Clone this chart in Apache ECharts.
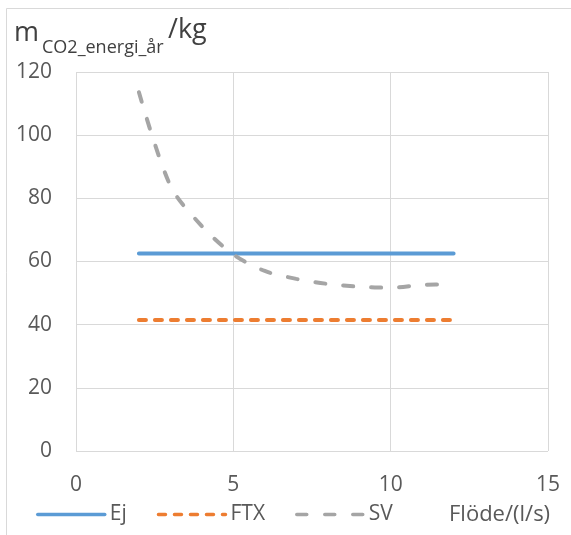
<!DOCTYPE html>
<html><head><meta charset="utf-8">
<script src="https://cdn.jsdelivr.net/npm/echarts@6/dist/echarts.min.js"></script>
<style>html,body{margin:0;padding:0;background:#fff}#c{width:571px;height:535px}</style>
</head><body><div id="c"></div>
<script>
var xValues = [2, 3, 4, 5, 6, 7, 8, 9, 10, 11, 12];
var ejValues = [62.5, 62.5, 62.5, 62.5, 62.5, 62.5, 62.5, 62.5, 62.5, 62.5, 62.5];
var ftxValues = [41.5, 41.5, 41.5, 41.5, 41.5, 41.5, 41.5, 41.5, 41.5, 41.5, 41.5];
var svValues = [113.6, 84, 71.2, 62.2, 57.0, 54.5, 52.9, 52.0, 51.7, 52.6, 52.8];
var seriesNames = ['Ej', 'FTX', 'SV'];
var xTicks = [0, 5, 10, 15];
var yTicks = [0, 20, 40, 60, 80, 100, 120];

function pairs(vals) { return xValues.map(function (x, i) { return [x, vals[i]]; }); }
var FONT = 'Open Sans';
var chart = echarts.init(document.getElementById('c'), null, {renderer: 'canvas'});
chart.setOption({
  animation: false,
  backgroundColor: '#fff',
  textStyle: {fontFamily: FONT},
  grid: {left: 76, right: 23, top: 72, bottom: 84, containLabel: false},
  xAxis: {
    type: 'value', min: xTicks[0], max: xTicks[xTicks.length - 1], interval: 5,
    axisLine: {show: false}, axisTick: {show: false},
    axisLabel: {color: '#595959', fontSize: 21, fontFamily: FONT, margin: 24},
    splitLine: {show: true, lineStyle: {color: '#d9d9d9', width: 1}}
  },
  yAxis: {
    type: 'value', min: yTicks[0], max: yTicks[yTicks.length - 1], interval: 20,
    axisLine: {show: false}, axisTick: {show: false},
    axisLabel: {color: '#595959', fontSize: 21, fontFamily: FONT, margin: 24, padding: [0, 0, 5, 0]},
    splitLine: {show: true, lineStyle: {color: '#d9d9d9', width: 1}}
  },
  legend: {
    left: 36, top: 504, padding: 0, itemWidth: 67, itemHeight: 14, itemGap: 30,
    textStyle: {color: '#595959', fontSize: 21, fontFamily: FONT},
    itemStyle: {opacity: 0},
    lineStyle: {width: 3.5},
    data: seriesNames
  },
  series: [
    {name: seriesNames[0], type: 'line', data: pairs(ejValues), showSymbol: false, symbol: 'none',
     lineStyle: {color: '#5B9BD5', width: 4, cap: 'round'}, itemStyle: {color: '#5B9BD5'}},
    {name: seriesNames[1], type: 'line', data: pairs(ftxValues), showSymbol: false, symbol: 'none',
     lineStyle: {color: '#ED7D31', width: 4, type: [7, 9], cap: 'round'}, itemStyle: {color: '#ED7D31'}},
    {name: seriesNames[2], type: 'line', data: pairs(svValues), showSymbol: false, symbol: 'none', smooth: 0.3,
     lineStyle: {color: '#A5A5A5', width: 4, type: [10, 18], cap: 'round'}, itemStyle: {color: '#A5A5A5'}}
  ],
  graphic: [
    {type: 'rect', shape: {x: 6.5, y: 8.5, width: 600, height: 540}, style: {fill: 'none', stroke: '#d9d9d9', lineWidth: 1}, silent: true},
    {type: 'text', left: 14, top: 20, style: {text: 'm', font: '27px "Open Sans"', fill: '#404040'}},
    {type: 'text', left: 42, top: 39, style: {text: 'CO2_energi_år', font: '18px "Open Sans"', fill: '#404040'}},
    {type: 'text', left: 168, top: 17, style: {text: '/kg', font: '27px "Open Sans"', fill: '#404040'}},
    {type: 'text', left: 449, top: 504, style: {text: 'Flöde/(l/s)', font: '22px "Open Sans"', fill: '#595959'}}
  ]
});
</script></body></html>
